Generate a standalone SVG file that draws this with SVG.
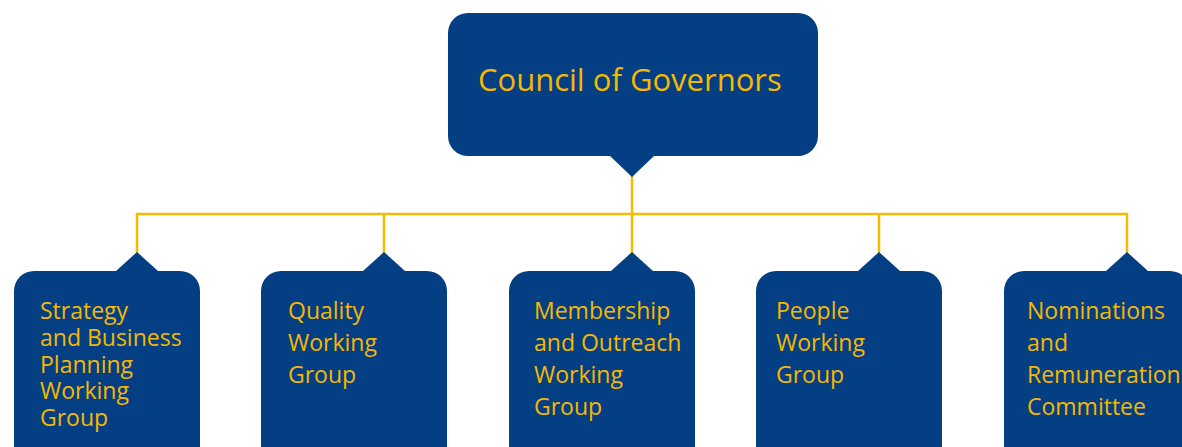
<svg xmlns="http://www.w3.org/2000/svg" width="1182" height="447" viewBox="0 0 1182 447">
<style>
.box{fill:#053F83;}
.ln{fill:none;stroke:#F5BB00;stroke-width:2.5;}
.t{fill:#F5B800;font-family:"Open Sans","Noto Sans",sans-serif;font-size:23px;}
.title{fill:#F5B800;font-family:"Open Sans","Noto Sans",sans-serif;font-size:31px;}
</style>
<rect width="1182" height="447" fill="#FFFFFF"/>
<g id="connectors">
<path class="ln" d="M632 170 V214 M137 253 V214 H1127 V253 M384 214 V253 M632 214 V253 M879 214 V253"/>
</g>
<g id="council">
<path class="box" d="M468 13 H798 A20 20 0 0 1 818 33 V136 A20 20 0 0 1 798 156 H654 L632 177 L610 156 H468 A20 20 0 0 1 448 136 V33 A20 20 0 0 1 468 13 Z"/>
<text class="title" x="478" y="91">Council of Governors</text>
</g>
<g id="strategy">
<path class="box" d="M34 271 H116 L137 252 L158 271 H180 A20 20 0 0 1 200 291 V460 H14 V291 A20 20 0 0 1 34 271 Z"/>
<text class="t" x="40" y="319">Strategy</text>
<text class="t" x="40" y="346">and Business</text>
<text class="t" x="40" y="373">Planning</text>
<text class="t" x="40" y="399">Working</text>
<text class="t" x="40" y="426">Group</text>
</g>
<g id="quality">
<path class="box" d="M281 271 H363 L384 252 L405 271 H427 A20 20 0 0 1 447 291 V460 H261 V291 A20 20 0 0 1 281 271 Z"/>
<text class="t" x="288" y="319">Quality</text>
<text class="t" x="288" y="351">Working</text>
<text class="t" x="288" y="383">Group</text>
</g>
<g id="membership">
<path class="box" d="M529 271 H611 L632 252 L653 271 H675 A20 20 0 0 1 695 291 V460 H509 V291 A20 20 0 0 1 529 271 Z"/>
<text class="t" x="534" y="319">Membership</text>
<text class="t" x="534" y="351">and Outreach</text>
<text class="t" x="534" y="383">Working</text>
<text class="t" x="534" y="415">Group</text>
</g>
<g id="people">
<path class="box" d="M776 271 H858 L879 252 L900 271 H922 A20 20 0 0 1 942 291 V460 H756 V291 A20 20 0 0 1 776 271 Z"/>
<text class="t" x="776" y="319">People</text>
<text class="t" x="776" y="351">Working</text>
<text class="t" x="776" y="383">Group</text>
</g>
<g id="nominations">
<path class="box" d="M1024 271 H1106 L1127 252 L1148 271 H1170 A20 20 0 0 1 1190 291 V460 H1004 V291 A20 20 0 0 1 1024 271 Z"/>
<text class="t" x="1027" y="319">Nominations</text>
<text class="t" x="1027" y="351">and</text>
<text class="t" x="1027" y="383">Remuneration</text>
<text class="t" x="1027" y="415">Committee</text>
</g>
</svg>
